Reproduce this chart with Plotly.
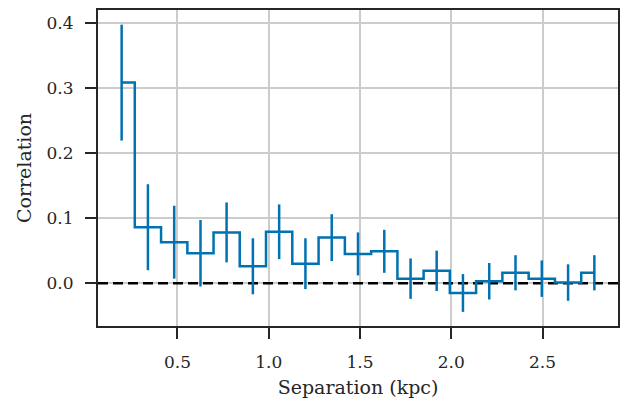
import plotly.graph_objects as go

# Data
separation_kpc = [0.194, 0.338, 0.482, 0.626, 0.769, 0.913, 1.057, 1.201, 1.345,
                  1.489, 1.633, 1.777, 1.920, 2.064, 2.208, 2.352, 2.496, 2.640, 2.784]
correlation = [0.308, 0.086, 0.063, 0.046, 0.078, 0.026, 0.079, 0.030, 0.070,
               0.045, 0.049, 0.007, 0.019, -0.015, 0.003, 0.016, 0.007, 0.001, 0.016]
correlation_err = [0.089, 0.066, 0.056, 0.051, 0.046, 0.043, 0.042, 0.039, 0.036,
                   0.033, 0.033, 0.031, 0.031, 0.029, 0.028, 0.027, 0.028, 0.028, 0.027]
x_ticks = [0.5, 1.0, 1.5, 2.0, 2.5]
y_ticks = [0.0, 0.1, 0.2, 0.3, 0.4]
x_range = [0.0645, 2.9135]
y_range = [-0.0657, 0.4195]
reference_level = 0.0

BLUE = "#0072B2"
DARK = "#262626"
FONT = "DejaVu Serif"

fig = go.Figure()

# horizontal dashed reference line across the whole axis
fig.add_trace(go.Scatter(
    x=x_range, y=[reference_level, reference_level], mode="lines",
    line=dict(color="black", width=2.5, dash="10px,5px"),
    showlegend=False, hoverinfo="skip",
))

fig.add_trace(go.Scatter(
    x=separation_kpc, y=correlation, mode="lines",
    line=dict(color=BLUE, width=2.5, shape="hvh"),
    error_y=dict(type="data", array=correlation_err, visible=True,
                 color=BLUE, thickness=2.5, width=0),
    showlegend=False,
))

axis_common = dict(
    showline=True, linecolor=DARK, linewidth=2.2, mirror=True,
    showgrid=True, gridcolor="#cccccc", gridwidth=1.6,
    ticks="outside", ticklen=11, tickwidth=1.8, tickcolor=DARK,
    tickfont=dict(family=FONT, size=17, color=DARK),
    zeroline=False, ticklabelstandoff=8,
)

fig.update_xaxes(
    range=x_range, tickvals=x_ticks, ticktext=[f"{v:.1f}" for v in x_ticks],
    title=dict(text="Separation (kpc)", font=dict(family=FONT, size=19, color=DARK), standoff=10),
    **axis_common,
)
fig.update_yaxes(
    range=y_range, tickvals=y_ticks, ticktext=[f"{v:.1f}" for v in y_ticks],
    title=dict(text="Correlation", font=dict(family=FONT, size=19, color=DARK), standoff=10),
    **axis_common,
)

fig.update_layout(
    width=628, height=403,
    margin=dict(l=98, r=8, t=8, b=77),
    plot_bgcolor="white", paper_bgcolor="white",
)

fig.write_html("out.html")
